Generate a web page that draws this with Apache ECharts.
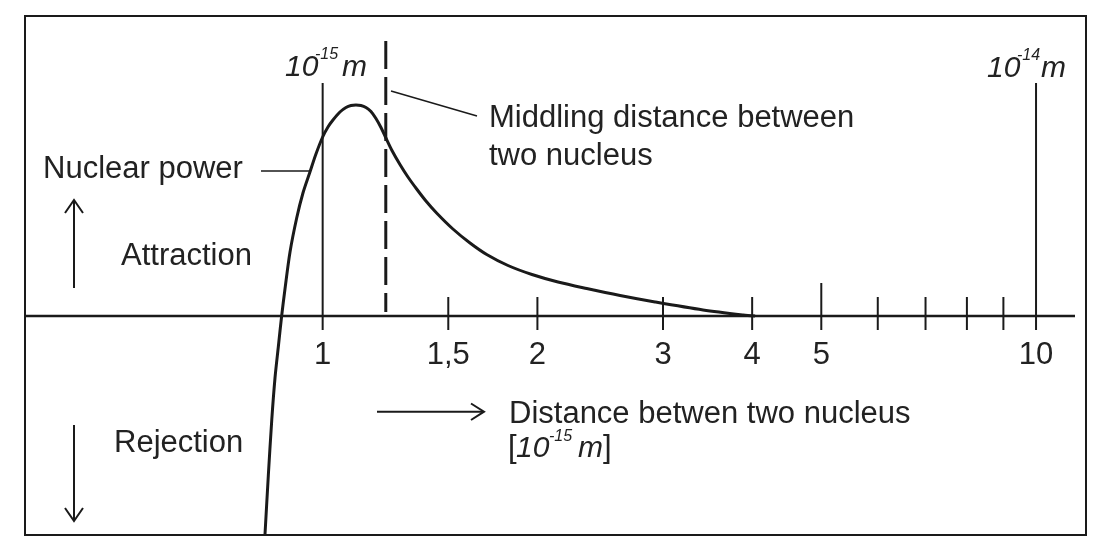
<!DOCTYPE html>
<html><head><meta charset="utf-8">
<script src="https://cdn.jsdelivr.net/npm/echarts@6/dist/echarts.min.js"></script>
<style>html,body{margin:0;padding:0;background:#fff}#c{width:1107px;height:540px}</style>
</head><body><div id="c"></div>
<script>
// ---- data (distance in 10^-15 m, force in arbitrary units) ----
const curveX = [0.8301, 0.8392, 0.8485, 0.8574, 0.8669, 0.8760, 0.8855, 0.9000, 0.9196, 0.9384, 0.9598, 0.9786, 1.0, 1.0173, 1.0338, 1.0574, 1.0781, 1.0956, 1.1134, 1.1315, 1.1500, 1.1687, 1.1877, 1.2071, 1.2255, 1.2507, 1.2834, 1.3169, 1.3544, 1.3957, 1.4445, 1.5226, 1.6090, 1.6980, 1.8187, 1.9651, 2.1376, 2.3449, 2.6116, 2.9237, 3.4135, 3.8849, 4.0384];
const curveY = [-1.095, -0.795, -0.52, -0.31, -0.15, 0, 0.135, 0.32, 0.49, 0.615, 0.72, 0.81, 0.895, 0.945, 0.98, 1.02, 1.0425, 1.0525, 1.055, 1.0525, 1.0425, 1.0225, 0.9875, 0.9425, 0.8925, 0.8275, 0.7575, 0.695, 0.635, 0.575, 0.515, 0.435, 0.365, 0.3075, 0.2525, 0.2075, 0.17, 0.1375, 0.1025, 0.07, 0.03, 0.005, 0];
const tickValues = [1, 1.5, 2, 3, 4, 5, 6, 7, 8, 9, 10];
const tickLabels = ['1', '1,5', '2', '3', '4', '5', '', '', '', '', '10'];
const middlingDistance = 1.226;
const dashedRange = [0.02, 1.375];
const xRange = [0.3826, 11.75];
const axisRange = [0.3826, 11.34];
const yRange = [-1.095, 1.5];

const FONT = '"Liberation Sans", Arial, Helvetica, sans-serif';
const INK = '#1a1a1a';
const TXT = '#222';

function txt(text, x, y, size, opts) {
  opts = opts || {};
  return {
    type: 'text', x: x, y: y, silent: true, z: 100,
    style: {
      text: text,
      font: (opts.italic ? 'italic ' : '') + size + 'px ' + FONT,
      fill: TXT,
      align: opts.align || 'left',
      verticalAlign: 'middle'
    }
  };
}
function seg(x1, y1, x2, y2, w) {
  return { type: 'line', silent: true, z: 100, shape: { x1: x1, y1: y1, x2: x2, y2: y2 }, style: { stroke: INK, lineWidth: w || 2 } };
}
function chevron(pts, w) {
  return { type: 'polyline', silent: true, z: 100, shape: { points: pts }, style: { stroke: INK, lineWidth: w || 2, fill: null } };
}

const chart = echarts.init(document.getElementById('c'), null, { renderer: 'canvas' });
const option = {
  animation: false,
  backgroundColor: '#fff',
  grid: { left: 25, right: 21, top: 16, bottom: 5, show: true, borderColor: INK, borderWidth: 2, backgroundColor: 'transparent' },
  xAxis: { type: 'log', logBase: 10, min: xRange[0], max: xRange[1], show: false },
  yAxis: { type: 'value', min: yRange[0], max: yRange[1], show: false },
  series: [
    {
      name: 'axis', type: 'line', symbol: 'none', silent: true, z: 2,
      data: [[axisRange[0], 0], [axisRange[1], 0]],
      lineStyle: { color: INK, width: 2.3 }
    },
    {
      name: 'ticks', type: 'custom', silent: true, z: 3,
      data: tickValues.map(function (v) { return [v, 0]; }),
      encode: { x: 0, y: 1 },
      renderItem: function (params, api) {
        const v = api.value(0);
        const p = api.coord([v, 0]);
        let up = 19;
        if (v === 1 || v === 10) up = 233; else if (v === 5) up = 33;
        return {
          type: 'group', children: [
            { type: 'line', shape: { x1: p[0], y1: p[1] - up, x2: p[0], y2: p[1] + 14 }, style: { stroke: INK, lineWidth: 2 } },
            { type: 'text', style: { text: tickLabels[params.dataIndex], x: p[0], y: p[1] + 39, align: 'center', verticalAlign: 'middle', font: '31px ' + FONT, fill: TXT } }
          ]
        };
      }
    },
    {
      name: 'middling', type: 'line', symbol: 'none', silent: true, z: 4,
      data: [[middlingDistance, dashedRange[1]], [middlingDistance, dashedRange[0]]],
      lineStyle: { color: INK, width: 3, type: [28, 8] }
    },
    {
      name: 'Nuclear power', type: 'line', symbol: 'none', silent: true, z: 5, smooth: 0.3,
      data: curveX.map(function (x, i) { return [x, curveY[i]]; }),
      lineStyle: { color: INK, width: 3 }
    }
  ],
  graphic: [
    txt('10', 285, 67.5, 30, { italic: true }),
    txt('-15', 315, 55, 16, { italic: true }),
    txt('m', 342, 67.5, 30, { italic: true }),
    txt('10', 987, 69, 30, { italic: true }),
    txt('-14', 1017, 56, 16, { italic: true }),
    txt('m', 1041, 69, 30, { italic: true }),
    seg(391, 91, 477, 116, 1.5),
    txt('Middling distance between', 489, 118.5, 31),
    txt('two nucleus', 489, 156, 31),
    txt('Nuclear power', 43, 169, 31),
    seg(261, 171, 310, 171, 1.5),
    seg(74, 288, 74, 201, 2),
    chevron([[65, 213], [74, 200], [83, 213]], 2),
    txt('Attraction', 121, 256, 31),
    seg(74, 425, 74, 520, 2),
    chevron([[65, 508], [74, 521], [83, 508]], 2),
    txt('Rejection', 114, 443, 31),
    seg(377, 411.7, 483, 411.7, 2),
    chevron([[471, 403.5], [484, 411.7], [471, 420]], 2),
    txt('Distance betwen two nucleus', 509, 414, 31),
    txt('[', 508, 448.5, 31),
    txt('10', 516, 448.5, 30, { italic: true }),
    txt('-15', 549, 437, 16, { italic: true }),
    txt('m', 578, 448.5, 30, { italic: true }),
    txt(']', 603, 448.5, 31)
  ]
};
chart.setOption(option);
</script>
</body></html>
